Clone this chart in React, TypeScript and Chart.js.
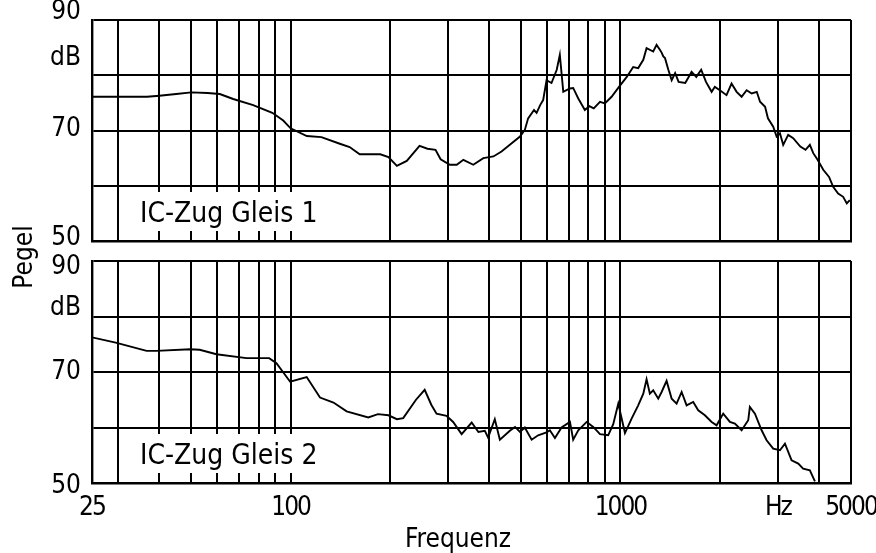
import { useEffect, useRef } from 'react';
import { Chart, registerables } from 'chart.js';

Chart.register(...registerables);

// ---------- data ----------
const xGridValues = [25, 30, 40, 50, 60, 70, 80, 90, 100, 200, 300, 400, 500, 600, 700, 800, 900, 1000, 2000, 3000, 4000, 5000];
const xLabelValues = [25, 100, 1000, 3000, 5000];
const xLabelTexts = ['25', '100', '1000', 'Hz', '5000'];
const yGridValues = [50, 60, 70, 80, 90];
const yLabelValues = [90, 80, 70, 50];
const yLabelTexts = ['90', 'dB', '70', '50'];
const panelTitles = ['IC-Zug Gleis 1', 'IC-Zug Gleis 2'];
const xAxisTitle = 'Frequenz';
const yAxisTitle = 'Pegel';

const topFreq = [25, 30, 36.7, 40, 45, 50, 56, 61, 67, 77, 88, 95, 100, 112, 124, 141, 151, 162, 187, 198, 210, 225, 246, 260, 275, 285, 304, 319, 334, 358, 384, 412, 436, 462, 496, 513, 525, 547, 557, 571, 583, 597, 618, 641, 655, 671, 703, 719, 745, 780, 805, 830, 867, 897, 940, 990, 1045, 1093, 1132, 1173, 1200, 1257, 1287, 1317, 1333, 1349, 1365, 1397, 1430, 1465, 1501, 1572, 1643, 1698, 1757, 1817, 1890, 1933, 2002, 2097, 2172, 2250, 2330, 2413, 2500, 2590, 2650, 2745, 2800, 2905, 2975, 3045, 3115, 3225, 3340, 3510, 3640, 3752, 3842, 3960, 4119, 4290, 4415, 4570, 4734, 4855, 4960];
const topLevel = [76.1, 76.1, 76.1, 76.3, 76.6, 76.9, 76.8, 76.6, 75.7, 74.6, 73.2, 71.8, 70.4, 69.0, 68.8, 67.6, 67.0, 65.7, 65.7, 65.2, 63.6, 64.5, 67.2, 66.7, 66.5, 64.8, 63.8, 63.8, 64.7, 63.8, 65.0, 65.3, 66.2, 67.4, 68.9, 70.1, 72.2, 73.7, 73.2, 74.6, 75.5, 79.1, 78.6, 81.0, 83.7, 77.0, 77.6, 77.7, 75.8, 73.7, 74.4, 74.0, 75.2, 74.9, 76.1, 77.9, 79.7, 81.5, 81.3, 82.8, 84.9, 84.3, 85.5, 84.6, 84.1, 83.4, 83.1, 81.0, 79.1, 80.4, 78.8, 78.6, 80.6, 79.7, 81.0, 78.8, 77.0, 77.9, 77.3, 76.4, 78.5, 77.0, 76.1, 77.3, 76.7, 77.0, 75.2, 74.3, 72.2, 70.7, 68.9, 69.5, 67.4, 69.2, 68.6, 67.1, 66.5, 67.4, 65.9, 64.7, 62.9, 61.6, 59.8, 58.6, 58.0, 56.8, 57.4];

const bottomFreq = [25, 29.5, 36.6, 39.2, 49.6, 53, 59.6, 73.5, 86.1, 90.6, 99.7, 111.9, 122.8, 134.9, 147.9, 172, 184, 198, 210, 219.5, 240, 255, 267, 277, 297, 311, 330, 354, 371, 388, 397, 416, 431, 462, 479, 496, 513, 538, 563, 597, 611, 633, 663, 703, 719, 745, 790, 827, 867, 918, 951, 985, 1032, 1081, 1132, 1173, 1200, 1228, 1257, 1302, 1333, 1380, 1430, 1480, 1533, 1587, 1662, 1721, 1803, 1890, 1957, 2049, 2147, 2223, 2330, 2440, 2468, 2557, 2679, 2774, 2905, 3045, 3153, 3303, 3460, 3580, 3752, 3887];
const bottomLevel = [76.25, 75.3, 73.8, 73.8, 74.1, 74.0, 73.2, 72.5, 72.5, 71.6, 68.25, 69.1, 65.4, 64.5, 62.9, 61.8, 62.4, 62.2, 61.5, 61.7, 65.0, 66.8, 64.1, 62.5, 62.1, 61.0, 58.8, 60.9, 59.2, 59.4, 58.2, 61.5, 57.8, 59.4, 60.1, 59.2, 60.0, 57.8, 58.6, 59.1, 59.5, 58.1, 60.0, 61.0, 57.8, 59.5, 61.0, 60.1, 58.8, 58.6, 60.6, 64.3, 59.0, 61.6, 64.0, 66.1, 68.7, 66.1, 66.7, 65.2, 66.4, 68.4, 65.2, 64.3, 66.4, 64.0, 64.6, 63.1, 62.2, 61.0, 60.4, 62.5, 61.0, 60.7, 59.5, 61.3, 63.7, 62.5, 59.5, 57.7, 56.2, 55.9, 57.1, 54.1, 53.5, 52.6, 52.3, 50.3];

// ---------- style ----------
const W = 876;
const H = 553;
const FONT = "'DejaVu Sans Condensed', 'DejaVu Sans', sans-serif";
const INK = '#000';
const yLabelOffsets = [
  [-8, -17, -1, -3],
  [6, -8, 0, 3],
];

function decorPlugin(panel: number) {
  return {
    id: 'decor' + panel,
    beforeDraw(chart: any) {
      // slightly tighter letter spacing for the axis tick labels (narrow lettering of the original)
      (chart.ctx as any).letterSpacing = '-2px';
    },
    beforeDatasetsDraw(chart: any) {
      const { ctx, chartArea } = chart;
      const a = chartArea;
      ctx.save();
      (ctx as any).letterSpacing = '0px';
      ctx.fillStyle = '#fff';
      ctx.fillRect(a.left + 38, a.bottom - 49, 197, 39);
      ctx.fillStyle = INK;
      ctx.font = `28px ${FONT}`;
      ctx.textAlign = 'left';
      ctx.textBaseline = 'alphabetic';
      ctx.fillText(panelTitles[panel], a.left + 48, a.bottom - 19);
      ctx.restore();
    },
    afterDraw(chart: any) {
      const { ctx, chartArea } = chart;
      const y = chart.scales.y;
      (ctx as any).letterSpacing = '0px';
      ctx.save();
      ctx.fillStyle = INK;
      ctx.font = `26px ${FONT}`;
      ctx.textAlign = 'right';
      ctx.textBaseline = 'middle';
      yLabelValues.forEach((v, i) => {
        ctx.fillText(yLabelTexts[i], chartArea.left - 11, y.getPixelForValue(v) + yLabelOffsets[panel][i]);
      });
      if (panel === 0) {
        ctx.translate(25, 257);
        ctx.rotate(-Math.PI / 2);
        ctx.textAlign = 'center';
        ctx.fillText(yAxisTitle, 0, 0);
      } else {
        ctx.textAlign = 'center';
        ctx.fillText(xAxisTitle, 458, 540);
      }
      ctx.restore();
    },
  };
}

function makeConfig(panel: number, freqs: number[], levels: number[]): any {
  return {
    type: 'line',
    data: {
      datasets: [
        {
          data: freqs.map((f, i) => ({ x: f, y: levels[i] })),
          borderColor: INK,
          borderWidth: 1.9,
          pointRadius: 0,
          tension: 0,
          fill: false,
        },
      ],
    },
    options: {
      animation: false,
      responsive: false,
      layout: {
        padding: panel === 0 ? { top: 20, right: 25, bottom: 312, left: 0 } : { top: 261, right: 25, bottom: 0, left: 0 },
      },
      plugins: { legend: { display: false }, tooltip: { enabled: false }, title: { display: false } },
      scales: {
        x: {
          type: 'logarithmic',
          min: 25,
          max: 5000,
          afterBuildTicks: (s: any) => {
            s.ticks = xGridValues.map((v) => ({ value: v }));
          },
          afterFit: (s: any) => {
            s.height = panel === 0 ? 0 : 70;
            s.paddingLeft = 0;
            s.paddingRight = 0;
          },
          grid: { color: INK, lineWidth: 2, drawTicks: false },
          border: { color: INK, width: 2.4 },
          ticks: {
            display: panel === 1,
            autoSkip: false,
            maxRotation: 0,
            padding: 10,
            color: INK,
            font: { family: FONT, size: 26 },
            callback: (v: number) => {
              const i = xLabelValues.indexOf(v);
              return i >= 0 ? xLabelTexts[i] : '';
            },
          },
        },
        y: {
          type: 'linear',
          min: 50,
          max: 90,
          afterBuildTicks: (s: any) => {
            s.ticks = yGridValues.map((v) => ({ value: v }));
          },
          afterFit: (s: any) => {
            s.width = 92;
          },
          grid: { color: INK, lineWidth: 2, drawTicks: false },
          border: { color: INK, width: 2.4 },
          ticks: { display: false },
        },
      },
    },
    plugins: [decorPlugin(panel)],
  };
}

export default function App() {
  const topRef = useRef<HTMLCanvasElement | null>(null);
  const bottomRef = useRef<HTMLCanvasElement | null>(null);

  useEffect(() => {
    const c1 = new Chart(topRef.current as HTMLCanvasElement, makeConfig(0, topFreq, topLevel));
    const c2 = new Chart(bottomRef.current as HTMLCanvasElement, makeConfig(1, bottomFreq, bottomLevel));
    return () => {
      c1.destroy();
      c2.destroy();
    };
  }, []);

  const canvasStyle: any = { position: 'absolute', left: 0, top: 0, width: W, height: H };
  return (
    <div style={{ position: 'fixed', left: 0, top: 0, width: W, height: H, background: '#fff' }}>
      <canvas ref={topRef} width={W} height={H} style={canvasStyle} />
      <canvas ref={bottomRef} width={W} height={H} style={canvasStyle} />
    </div>
  );
}
